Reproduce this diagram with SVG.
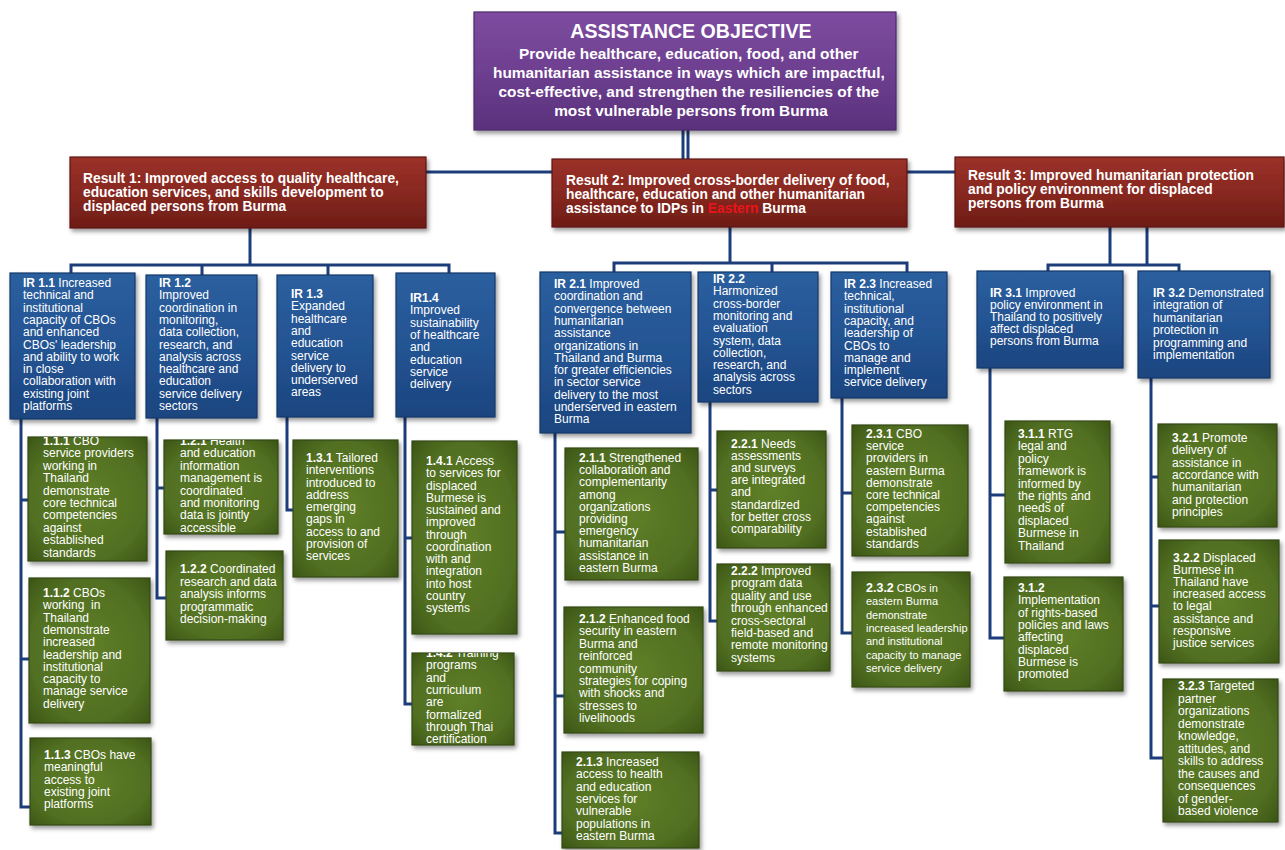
<svg xmlns="http://www.w3.org/2000/svg" width="1285" height="850" viewBox="0 0 1285 850">
<style>
.t{font-family:"Liberation Sans",Arial,sans-serif;fill:#fff}
.ir{font-size:12px}
.b{font-weight:bold}
.obj{font-weight:bold;text-anchor:middle}
.res{font-size:13.8px;font-weight:bold}
.blue{fill:url(#gBlue);stroke:#15386a;stroke-width:1.2;filter:url(#sh)}
.green{fill:url(#gGreen);stroke:#34491a;stroke-width:1.2;filter:url(#sh)}
.red{fill:url(#gRed);stroke:#5e1712;stroke-width:1.2;filter:url(#sh)}
.purple{fill:url(#gPurple);stroke:#4c2a6a;stroke-width:1.2;filter:url(#sh)}
.c{stroke:#1c3c7a;stroke-width:3;fill:none}
</style>
<defs>
<linearGradient id="gBlue" x1="0" y1="0" x2="0" y2="1"><stop offset="0" stop-color="#2b5f9f"/><stop offset="0.5" stop-color="#245493"/><stop offset="1" stop-color="#1b457f"/></linearGradient>
<radialGradient id="gGreen" cx="0.5" cy="0.5" r="0.7"><stop offset="0" stop-color="#5f7f29"/><stop offset="0.7" stop-color="#516f21"/><stop offset="1" stop-color="#3c5616"/></radialGradient>
<linearGradient id="gRed" x1="0" y1="0" x2="0" y2="1"><stop offset="0" stop-color="#9a3128"/><stop offset="0.5" stop-color="#882820"/><stop offset="1" stop-color="#6e1c16"/></linearGradient>
<linearGradient id="gPurple" x1="0" y1="0" x2="0" y2="1"><stop offset="0" stop-color="#7d4ca0"/><stop offset="0.5" stop-color="#6e3f90"/><stop offset="1" stop-color="#5a317c"/></linearGradient>
<filter id="sh" x="-10%" y="-10%" width="125%" height="125%"><feDropShadow dx="2" dy="3" stdDeviation="2" flood-color="#000" flood-opacity="0.4"/></filter>
<clipPath id="c111"><rect x="28" y="437" width="119" height="124"/></clipPath>
<clipPath id="c121"><rect x="164" y="440" width="114" height="94"/></clipPath>
<clipPath id="c142"><rect x="412" y="653" width="102" height="92"/></clipPath>
</defs>
<rect width="1285" height="850" fill="#fff"/>

<g id="connectors">
<line class="c" x1="683" y1="130" x2="683" y2="172" stroke-width="2"/>
<line class="c" x1="688" y1="130" x2="688" y2="172" stroke-width="2"/>
<line class="c" x1="420" y1="172" x2="960" y2="172"/>
<path class="c" d="M250 228V265M71 273V265H449V273M202 265V275M328 265V275"/>
<path class="c" d="M730 227V263M614 272V263H907V272M772 263V272"/>
<path class="c" d="M1110 227V265M1147 227V265M1048 271V265H1179V271"/>
<path class="c" d="M21 419V807H30M21 500H28M21 659H29"/>
<path class="c" d="M157 418V598H166M157 488H164"/>
<path class="c" d="M287 417V510H293"/>
<path class="c" d="M405 417V704H412M405 538H412"/>
<path class="c" d="M555 433V833H562M555 532H565M555 696H564"/>
<path class="c" d="M710 402V621H717M710 490H717"/>
<path class="c" d="M842 398V633H852M842 493H852"/>
<path class="c" d="M990 368V638H1004M990 495H1005"/>
<path class="c" d="M1151 378V758H1163M1151 477H1158M1151 606H1159"/>
</g>

<g id="objective">
<rect class="purple" x="474" y="12" width="422" height="118"/>
<text class="t obj" x="691" y="38" font-size="19.6">ASSISTANCE OBJECTIVE</text>
<text class="t obj" font-size="15.4">
<tspan x="691" y="59">Provide healthcare, education, food, and other</tspan>
<tspan x="691" y="78">humanitarian assistance in ways which are impactful,</tspan>
<tspan x="691" y="97">cost-effective, and strengthen the resiliencies of the</tspan>
<tspan x="691" y="116">most vulnerable persons from Burma</tspan>
</text>
</g>

<g id="result1">
<rect class="red" x="70" y="157" width="356" height="71"/>
<text class="t res"><tspan x="83" y="183">Result 1: Improved access to quality healthcare,</tspan><tspan x="83" y="197">education services, and skills development to</tspan><tspan x="83" y="211">displaced persons from Burma</tspan></text>
</g>
<g id="result2">
<rect class="red" x="552" y="159" width="355" height="68"/>
<text class="t res"><tspan x="566" y="185">Result 2: Improved cross-border delivery of food,</tspan><tspan x="566" y="199">healthcare, education and other humanitarian</tspan><tspan x="566" y="213">assistance to IDPs in <tspan fill="#e8141a">Eastern</tspan> Burma</tspan></text>
</g>
<g id="result3">
<rect class="red" x="955" y="157" width="329" height="70"/>
<text class="t res"><tspan x="968" y="180">Result 3: Improved humanitarian protection</tspan><tspan x="968" y="194">and policy environment for displaced</tspan><tspan x="968" y="208">persons from Burma</tspan></text>
</g>

<g id="ir11">
<rect class="blue" x="10" y="273" width="125" height="146"/>
<text class="t ir"><tspan x="23" y="287"><tspan class="b">IR 1.1</tspan> Increased</tspan><tspan x="23" y="299.3">technical and</tspan><tspan x="23" y="311.6">institutional</tspan><tspan x="23" y="323.9">capacity of CBOs</tspan><tspan x="23" y="336.2">and enhanced</tspan><tspan x="23" y="348.5">CBOs' leadership</tspan><tspan x="23" y="360.8">and ability to work</tspan><tspan x="23" y="373.1">in close</tspan><tspan x="23" y="385.4">collaboration with</tspan><tspan x="23" y="397.7">existing joint</tspan><tspan x="23" y="410">platforms</tspan></text>
</g>
<g id="ir12">
<rect class="blue" x="146" y="275" width="111" height="143"/>
<text class="t ir"><tspan x="159" y="287" class="b">IR 1.2</tspan><tspan x="159" y="299.3">Improved</tspan><tspan x="159" y="311.6">coordination in</tspan><tspan x="159" y="323.9">monitoring,</tspan><tspan x="159" y="336.2">data collection,</tspan><tspan x="159" y="348.5">research, and</tspan><tspan x="159" y="360.8">analysis across</tspan><tspan x="159" y="373.1">healthcare and</tspan><tspan x="159" y="385.4">education</tspan><tspan x="159" y="397.7">service delivery</tspan><tspan x="159" y="410">sectors</tspan></text>
</g>
<g id="ir13">
<rect class="blue" x="277" y="275" width="96" height="142"/>
<text class="t ir"><tspan x="291" y="298" class="b">IR 1.3</tspan><tspan x="291" y="310.3">Expanded</tspan><tspan x="291" y="322.6">healthcare</tspan><tspan x="291" y="334.9">and</tspan><tspan x="291" y="347.2">education</tspan><tspan x="291" y="359.5">service</tspan><tspan x="291" y="371.8">delivery to</tspan><tspan x="291" y="384.1">underserved</tspan><tspan x="291" y="396.4">areas</tspan></text>
</g>
<g id="ir14">
<rect class="blue" x="396" y="273" width="99" height="144"/>
<text class="t ir"><tspan x="410" y="302" class="b">IR1.4</tspan><tspan x="410" y="314.3">Improved</tspan><tspan x="410" y="326.6">sustainability</tspan><tspan x="410" y="338.9">of healthcare</tspan><tspan x="410" y="351.2">and</tspan><tspan x="410" y="363.5">education</tspan><tspan x="410" y="375.8">service</tspan><tspan x="410" y="388.1">delivery</tspan></text>
</g>
<g id="ir21">
<rect class="blue" x="540" y="272" width="151" height="161"/>
<text class="t ir"><tspan x="554" y="288"><tspan class="b">IR 2.1</tspan> Improved</tspan><tspan x="554" y="300.3">coordination and</tspan><tspan x="554" y="312.6">convergence between</tspan><tspan x="554" y="324.9">humanitarian</tspan><tspan x="554" y="337.2">assistance</tspan><tspan x="554" y="349.5">organizations in</tspan><tspan x="554" y="361.8">Thailand and Burma</tspan><tspan x="554" y="374.1">for greater efficiencies</tspan><tspan x="554" y="386.4">in sector service</tspan><tspan x="554" y="398.7">delivery to the most</tspan><tspan x="554" y="411">underserved in eastern</tspan><tspan x="554" y="423.3">Burma</tspan></text>
</g>
<g id="ir22">
<rect class="blue" x="698" y="272" width="120" height="130"/>
<text class="t ir"><tspan x="713" y="283" class="b">IR 2.2</tspan><tspan x="713" y="295.3">Harmonized</tspan><tspan x="713" y="307.6">cross-border</tspan><tspan x="713" y="319.9">monitoring and</tspan><tspan x="713" y="332.2">evaluation</tspan><tspan x="713" y="344.5">system, data</tspan><tspan x="713" y="356.8">collection,</tspan><tspan x="713" y="369.1">research, and</tspan><tspan x="713" y="381.4">analysis across</tspan><tspan x="713" y="393.7">sectors</tspan></text>
</g>
<g id="ir23">
<rect class="blue" x="831" y="272" width="116" height="126"/>
<text class="t ir"><tspan x="844" y="288"><tspan class="b">IR 2.3</tspan> Increased</tspan><tspan x="844" y="300.3">technical,</tspan><tspan x="844" y="312.6">institutional</tspan><tspan x="844" y="324.9">capacity, and</tspan><tspan x="844" y="337.2">leadership of</tspan><tspan x="844" y="349.5">CBOs to</tspan><tspan x="844" y="361.8">manage and</tspan><tspan x="844" y="374.1">implement</tspan><tspan x="844" y="386.4">service delivery</tspan></text>
</g>
<g id="ir31">
<rect class="blue" x="977" y="271" width="146" height="97"/>
<text class="t ir"><tspan x="990" y="297"><tspan class="b">IR 3.1</tspan> Improved</tspan><tspan x="990" y="309">policy environment in</tspan><tspan x="990" y="321">Thailand to positively</tspan><tspan x="990" y="333">affect displaced</tspan><tspan x="990" y="345">persons from Burma</tspan></text>
</g>
<g id="ir32">
<rect class="blue" x="1138" y="271" width="132" height="107"/>
<text class="t ir"><tspan x="1153" y="297"><tspan class="b">IR 3.2</tspan> Demonstrated</tspan><tspan x="1153" y="309.4">integration of</tspan><tspan x="1153" y="321.8">humanitarian</tspan><tspan x="1153" y="334.2">protection in</tspan><tspan x="1153" y="346.6">programming and</tspan><tspan x="1153" y="359">implementation</tspan></text>
</g>

<g id="n111">
<rect class="green" x="28" y="437" width="119" height="124"/>
<text class="t ir" clip-path="url(#c111)"><tspan x="43" y="445"><tspan class="b">1.1.1</tspan> CBO</tspan><tspan x="43" y="457.4">service providers</tspan><tspan x="43" y="469.8">working in</tspan><tspan x="43" y="482.2">Thailand</tspan><tspan x="43" y="494.6">demonstrate</tspan><tspan x="43" y="507">core technical</tspan><tspan x="43" y="519.4">competencies</tspan><tspan x="43" y="531.8">against</tspan><tspan x="43" y="544.2">established</tspan><tspan x="43" y="556.6">standards</tspan></text>
</g>
<g id="n112">
<rect class="green" x="29" y="578" width="121" height="145"/>
<text class="t ir"><tspan x="43" y="597"><tspan class="b">1.1.2</tspan> CBOs</tspan><tspan x="43" y="609.3" xml:space="preserve">working  in</tspan><tspan x="43" y="621.6">Thailand</tspan><tspan x="43" y="633.9">demonstrate</tspan><tspan x="43" y="646.2">increased</tspan><tspan x="43" y="658.5">leadership and</tspan><tspan x="43" y="670.8">institutional</tspan><tspan x="43" y="683.1">capacity to</tspan><tspan x="43" y="695.4">manage service</tspan><tspan x="43" y="707.7">delivery</tspan></text>
</g>
<g id="n113">
<rect class="green" x="30" y="738" width="121" height="87"/>
<text class="t ir"><tspan x="44" y="759"><tspan class="b">1.1.3</tspan> CBOs have</tspan><tspan x="44" y="771.3">meaningful</tspan><tspan x="44" y="783.6">access to</tspan><tspan x="44" y="795.9">existing joint</tspan><tspan x="44" y="808.2">platforms</tspan></text>
</g>
<g id="n121">
<rect class="green" x="164" y="440" width="114" height="94"/>
<text class="t ir" clip-path="url(#c121)"><tspan x="180" y="445"><tspan class="b">1.2.1</tspan> Health</tspan><tspan x="180" y="457.4">and education</tspan><tspan x="180" y="469.8">information</tspan><tspan x="180" y="482.2">management is</tspan><tspan x="180" y="494.6">coordinated</tspan><tspan x="180" y="507">and monitoring</tspan><tspan x="180" y="519.4">data is jointly</tspan><tspan x="180" y="531.8">accessible</tspan></text>
</g>
<g id="n122">
<rect class="green" x="166" y="551" width="117" height="89"/>
<text class="t ir"><tspan x="180" y="573"><tspan class="b">1.2.2</tspan> Coordinated</tspan><tspan x="180" y="585.5">research and data</tspan><tspan x="180" y="598">analysis informs</tspan><tspan x="180" y="610.5">programmatic</tspan><tspan x="180" y="623">decision-making</tspan></text>
</g>
<g id="n131">
<rect class="green" x="293" y="440" width="105" height="137"/>
<text class="t ir"><tspan x="306" y="462"><tspan class="b">1.3.1</tspan> Tailored</tspan><tspan x="306" y="474.25">interventions</tspan><tspan x="306" y="486.5">introduced to</tspan><tspan x="306" y="498.75">address</tspan><tspan x="306" y="511">emerging</tspan><tspan x="306" y="523.25">gaps in</tspan><tspan x="306" y="535.5">access to and</tspan><tspan x="306" y="547.75">provision of</tspan><tspan x="306" y="560">services</tspan></text>
</g>
<g id="n141">
<rect class="green" x="412" y="441" width="105" height="193"/>
<text class="t ir"><tspan x="426" y="465"><tspan class="b">1.4.1</tspan> Access</tspan><tspan x="426" y="477.25">to services for</tspan><tspan x="426" y="489.5">displaced</tspan><tspan x="426" y="501.75">Burmese is</tspan><tspan x="426" y="514">sustained and</tspan><tspan x="426" y="526.25">improved</tspan><tspan x="426" y="538.5">through</tspan><tspan x="426" y="550.75">coordination</tspan><tspan x="426" y="563">with and</tspan><tspan x="426" y="575.25">integration</tspan><tspan x="426" y="587.5">into host</tspan><tspan x="426" y="599.75">country</tspan><tspan x="426" y="612">systems</tspan></text>
</g>
<g id="n142">
<rect class="green" x="412" y="653" width="102" height="92"/>
<text class="t ir" clip-path="url(#c142)"><tspan x="426" y="657"><tspan class="b">1.4.2</tspan> Training</tspan><tspan x="426" y="669.3">programs</tspan><tspan x="426" y="681.6">and</tspan><tspan x="426" y="693.9">curriculum</tspan><tspan x="426" y="706.2">are</tspan><tspan x="426" y="718.5">formalized</tspan><tspan x="426" y="730.8">through Thai</tspan><tspan x="426" y="743.1">certification</tspan></text>
</g>

<g id="n211">
<rect class="green" x="565" y="448" width="133" height="132"/>
<text class="t ir"><tspan x="579" y="462"><tspan class="b">2.1.1</tspan> Strengthened</tspan><tspan x="579" y="474.2">collaboration and</tspan><tspan x="579" y="486.4">complementarity</tspan><tspan x="579" y="498.6">among</tspan><tspan x="579" y="510.8">organizations</tspan><tspan x="579" y="523">providing</tspan><tspan x="579" y="535.2">emergency</tspan><tspan x="579" y="547.4">humanitarian</tspan><tspan x="579" y="559.6">assistance in</tspan><tspan x="579" y="571.8">eastern Burma</tspan></text>
</g>
<g id="n212">
<rect class="green" x="564" y="607" width="139" height="126"/>
<text class="t ir"><tspan x="579" y="623"><tspan class="b">2.1.2</tspan> Enhanced food</tspan><tspan x="579" y="635.4">security in eastern</tspan><tspan x="579" y="647.8">Burma and</tspan><tspan x="579" y="660.2">reinforced</tspan><tspan x="579" y="672.6">community</tspan><tspan x="579" y="685">strategies for coping</tspan><tspan x="579" y="697.4">with shocks and</tspan><tspan x="579" y="709.8">stresses to</tspan><tspan x="579" y="722.2">livelihoods</tspan></text>
</g>
<g id="n213">
<rect class="green" x="562" y="752" width="137" height="96"/>
<text class="t ir"><tspan x="576" y="766"><tspan class="b">2.1.3</tspan> Increased</tspan><tspan x="576" y="778.3">access to health</tspan><tspan x="576" y="790.6">and education</tspan><tspan x="576" y="802.9">services for</tspan><tspan x="576" y="815.2">vulnerable</tspan><tspan x="576" y="827.5">populations in</tspan><tspan x="576" y="839.8">eastern Burma</tspan></text>
</g>
<g id="n221">
<rect class="green" x="717" y="431" width="109" height="117"/>
<text class="t ir"><tspan x="731" y="448"><tspan class="b">2.2.1</tspan> Needs</tspan><tspan x="731" y="460.1">assessments</tspan><tspan x="731" y="472.2">and surveys</tspan><tspan x="731" y="484.3">are integrated</tspan><tspan x="731" y="496.4">and</tspan><tspan x="731" y="508.5">standardized</tspan><tspan x="731" y="520.6">for better cross</tspan><tspan x="731" y="532.7">comparability</tspan></text>
</g>
<g id="n222">
<rect class="green" x="717" y="564" width="113" height="107"/>
<text class="t ir"><tspan x="731" y="575"><tspan class="b">2.2.2</tspan> Improved</tspan><tspan x="731" y="587.4">program data</tspan><tspan x="731" y="599.8">quality and use</tspan><tspan x="731" y="612.2">through enhanced</tspan><tspan x="731" y="624.6">cross-sectoral</tspan><tspan x="731" y="637">field-based and</tspan><tspan x="731" y="649.4">remote monitoring</tspan><tspan x="731" y="661.8">systems</tspan></text>
</g>
<g id="n231">
<rect class="green" x="852" y="425" width="116" height="131"/>
<text class="t ir"><tspan x="866" y="438"><tspan class="b">2.3.1</tspan> CBO</tspan><tspan x="866" y="450.2">service</tspan><tspan x="866" y="462.4">providers in</tspan><tspan x="866" y="474.6">eastern Burma</tspan><tspan x="866" y="486.8">demonstrate</tspan><tspan x="866" y="499">core technical</tspan><tspan x="866" y="511.2">competencies</tspan><tspan x="866" y="523.4">against</tspan><tspan x="866" y="535.6">established</tspan><tspan x="866" y="547.8">standards</tspan></text>
</g>
<g id="n232">
<rect class="green" x="852" y="572" width="118" height="115"/>
<text class="t" font-size="11"><tspan x="866" y="592"><tspan class="b" font-size="12.5">2.3.2</tspan> CBOs in</tspan><tspan x="866" y="605.3">eastern Burma</tspan><tspan x="866" y="618.6">demonstrate</tspan><tspan x="866" y="631.9">increased leadership</tspan><tspan x="866" y="645.2">and institutional</tspan><tspan x="866" y="658.5">capacity to manage</tspan><tspan x="866" y="671.8">service delivery</tspan></text>
</g>

<g id="n311">
<rect class="green" x="1005" y="421" width="105" height="142"/>
<text class="t ir"><tspan x="1018" y="438"><tspan class="b">3.1.1</tspan> RTG</tspan><tspan x="1018" y="450.4">legal and</tspan><tspan x="1018" y="462.8">policy</tspan><tspan x="1018" y="475.2">framework is</tspan><tspan x="1018" y="487.6">informed by</tspan><tspan x="1018" y="500">the rights and</tspan><tspan x="1018" y="512.4">needs of</tspan><tspan x="1018" y="524.8">displaced</tspan><tspan x="1018" y="537.2">Burmese in</tspan><tspan x="1018" y="549.6">Thailand</tspan></text>
</g>
<g id="n312">
<rect class="green" x="1004" y="577" width="119" height="114"/>
<text class="t ir"><tspan x="1018" y="592" class="b">3.1.2</tspan><tspan x="1018" y="604.3">Implementation</tspan><tspan x="1018" y="616.6">of rights-based</tspan><tspan x="1018" y="628.9">policies and laws</tspan><tspan x="1018" y="641.2">affecting</tspan><tspan x="1018" y="653.5">displaced</tspan><tspan x="1018" y="665.8">Burmese is</tspan><tspan x="1018" y="678.1">promoted</tspan></text>
</g>
<g id="n321">
<rect class="green" x="1158" y="424" width="119" height="103"/>
<text class="t ir"><tspan x="1172" y="442"><tspan class="b">3.2.1</tspan> Promote</tspan><tspan x="1172" y="454.3">delivery of</tspan><tspan x="1172" y="466.6">assistance in</tspan><tspan x="1172" y="478.9">accordance with</tspan><tspan x="1172" y="491.2">humanitarian</tspan><tspan x="1172" y="503.5">and protection</tspan><tspan x="1172" y="515.8">principles</tspan></text>
</g>
<g id="n322">
<rect class="green" x="1159" y="540" width="120" height="123"/>
<text class="t ir"><tspan x="1173" y="562"><tspan class="b">3.2.2</tspan> Displaced</tspan><tspan x="1173" y="574.1">Burmese in</tspan><tspan x="1173" y="586.2">Thailand have</tspan><tspan x="1173" y="598.3">increased access</tspan><tspan x="1173" y="610.4">to legal</tspan><tspan x="1173" y="622.5">assistance and</tspan><tspan x="1173" y="634.6">responsive</tspan><tspan x="1173" y="646.7">justice services</tspan></text>
</g>
<g id="n323">
<rect class="green" x="1163" y="679" width="115" height="143"/>
<text class="t ir"><tspan x="1178" y="690"><tspan class="b">3.2.3</tspan> Targeted</tspan><tspan x="1178" y="702.5">partner</tspan><tspan x="1178" y="715">organizations</tspan><tspan x="1178" y="727.5">demonstrate</tspan><tspan x="1178" y="740">knowledge,</tspan><tspan x="1178" y="752.5">attitudes, and</tspan><tspan x="1178" y="765">skills to address</tspan><tspan x="1178" y="777.5">the causes and</tspan><tspan x="1178" y="790">consequences</tspan><tspan x="1178" y="802.5">of gender-</tspan><tspan x="1178" y="815">based violence</tspan></text>
</g>
</svg>
